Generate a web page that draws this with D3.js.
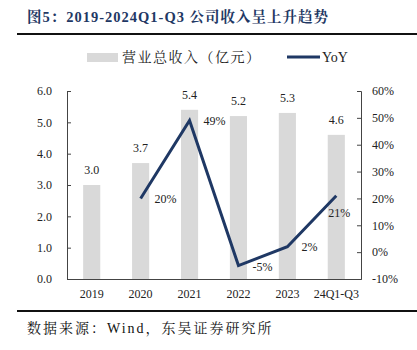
<!DOCTYPE html>
<html>
<head>
<meta charset="utf-8">
<script src="https://cdn.jsdelivr.net/npm/d3@7/dist/d3.min.js"></script>
<style>
  body { margin: 0; background: #fff; }
  svg { display: block; }
</style>
</head>
<body>
<div id="chart"></div>
<script>
const categories = ["2019", "2020", "2021", "2022", "2023", "24Q1-Q3"];
const revenue = [3.0, 3.7, 5.4, 5.2, 5.3, 4.6];
const yoy = [null, 20, 49, -5, 2, 21];
const leftTicks = [0, 1, 2, 3, 4, 5, 6];
const rightTicks = [-10, 0, 10, 20, 30, 40, 50, 60];

const W = 417, H = 350;
const NAVY = "#1f3864";
const BAR = "#d9d9d9";
const SERIF = "'Liberation Serif', 'Times New Roman', 'Noto Serif CJK SC', 'Noto Sans CJK SC', serif";

// label offsets for the YoY values (Excel "right" / "below" placement)
const yoyLabelPos = [null, [14, 0, "start"], [14, 0, "start"], [14, 1, "start"], [14, 0, "start"], [3, 17, "middle"]];

const svg = d3.select("#chart").append("svg")
  .attr("width", W).attr("height", H);

// title
svg.append("text")
  .attr("x", 27).attr("y", 22)
  .style("font-family", SERIF)
  .style("font-size", "14.5px")
  .style("font-weight", "bold")
  .style("letter-spacing", "1px")
  .style("fill", NAVY)
  .text("图5：2019-2024Q1-Q3 公司收入呈上升趋势");

svg.append("line")
  .attr("x1", 17).attr("x2", W).attr("y1", 34).attr("y2", 34)
  .attr("stroke", "#111").attr("stroke-width", 1.8);

svg.append("line")
  .attr("x1", 17).attr("x2", W).attr("y1", 311).attr("y2", 311)
  .attr("stroke", "#111").attr("stroke-width", 1.8);

svg.append("text")
  .attr("x", 27).attr("y", 333)
  .style("font-family", SERIF)
  .style("font-size", "14px")
  .style("letter-spacing", "2px")
  .style("fill", "#111")
  .text("数据来源：Wind，东吴证券研究所");

const m = { left: 67, right: 361, top: 91, bottom: 279 };

const x = d3.scaleBand().domain(categories).range([m.left, m.right]).paddingInner(0.65).paddingOuter(0.33);
const y = d3.scaleLinear().domain([0, 6]).range([m.bottom, m.top]);
const y2 = d3.scaleLinear().domain([-10, 60]).range([m.bottom, m.top]);

// bars
svg.append("g").selectAll("rect")
  .data(revenue)
  .join("rect")
  .attr("x", (d, i) => x(categories[i]))
  .attr("y", d => y(d))
  .attr("width", x.bandwidth())
  .attr("height", d => y(0) - y(d))
  .attr("fill", BAR);

svg.append("g").selectAll("text")
  .data(revenue)
  .join("text")
  .attr("x", (d, i) => x(categories[i]) + x.bandwidth() / 2)
  .attr("y", d => y(d) - 11)
  .attr("text-anchor", "middle")
  .style("font-family", SERIF)
  .style("font-size", "12px")
  .style("fill", "#222")
  .text(d => d.toFixed(1));

// axes
const axisStyle = g => {
  g.selectAll(".domain").attr("stroke", "#444");
  g.selectAll(".tick line").attr("stroke", "#444");
  g.selectAll("text").style("font-family", SERIF).style("font-size", "12px").style("fill", "#222");
};

svg.append("g")
  .attr("transform", `translate(${m.left},0)`)
  .call(d3.axisLeft(y).tickValues(leftTicks).tickFormat(d3.format(".1f")).tickSizeInner(-4).tickSizeOuter(-4).tickPadding(15))
  .call(axisStyle);

svg.append("g")
  .attr("transform", `translate(${m.right},0)`)
  .call(d3.axisRight(y2).tickValues(rightTicks).tickFormat(d => d + "%").tickSizeInner(-4).tickSizeOuter(-4).tickPadding(11))
  .call(axisStyle);

svg.append("g")
  .attr("transform", `translate(0,${m.bottom})`)
  .call(d3.axisBottom(x).tickSize(0).tickPadding(10))
  .call(axisStyle);

// YoY line
const cx = c => x(c) + x.bandwidth() / 2;
const line = d3.line()
  .defined(d => d[1] != null)
  .x(d => cx(d[0]))
  .y(d => y2(d[1]));

svg.append("path")
  .datum(categories.map((c, i) => [c, yoy[i]]))
  .attr("d", line)
  .attr("fill", "none")
  .attr("stroke", NAVY)
  .attr("stroke-width", 3)
  .attr("stroke-linejoin", "miter");

svg.append("g").selectAll("text")
  .data(categories.map((c, i) => [c, yoy[i], yoyLabelPos[i]]).filter(d => d[1] != null))
  .join("text")
  .attr("x", d => cx(d[0]) + d[2][0])
  .attr("y", d => y2(d[1]) + d[2][1])
  .attr("dy", "0.35em")
  .attr("text-anchor", d => d[2][2])
  .style("font-family", SERIF)
  .style("font-size", "12px")
  .style("fill", "#222")
  .text(d => d[1] + "%");

// legend
const lg = svg.append("g");
lg.append("rect").attr("x", 87).attr("y", 53).attr("width", 31).attr("height", 9).attr("fill", BAR);
lg.append("text").attr("x", 122).attr("y", 62)
  .style("font-family", SERIF).style("font-size", "14px").style("letter-spacing", "1.5px").style("fill", "#222")
  .text("营业总收入（亿元）");
lg.append("line").attr("x1", 287).attr("x2", 320).attr("y1", 57).attr("y2", 57)
  .attr("stroke", NAVY).attr("stroke-width", 3);
lg.append("text").attr("x", 322).attr("y", 62)
  .style("font-family", SERIF).style("font-size", "14px").style("fill", "#222")
  .text("YoY");
</script>
</body>
</html>
